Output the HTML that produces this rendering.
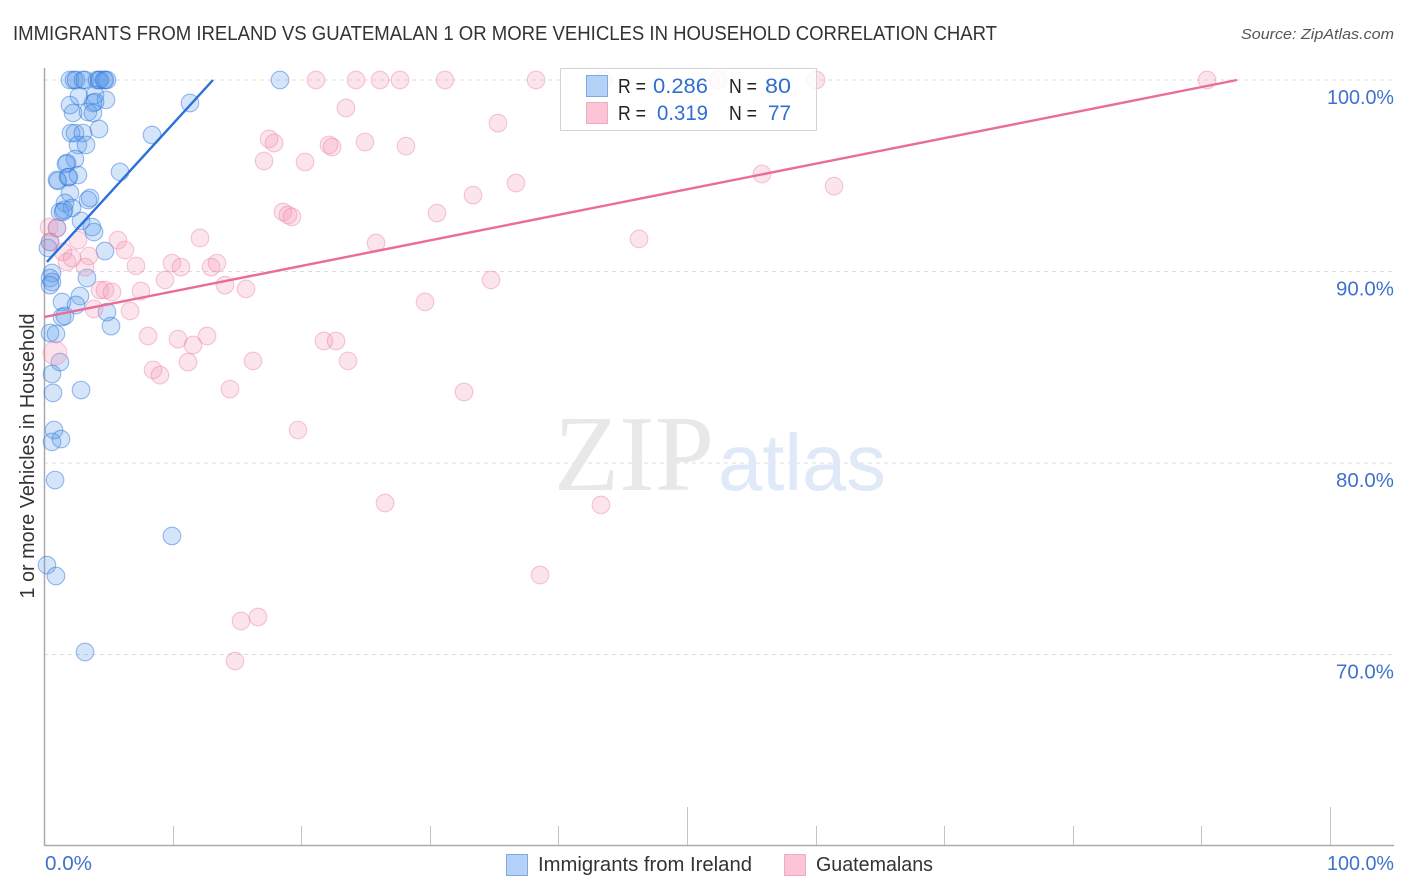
<!DOCTYPE html>
<html>
<head>
<meta charset="utf-8">
<title>Immigrants from Ireland vs Guatemalan chart</title>
<style>
html,body{margin:0;padding:0;background:#fff;}
svg{display:block;font-family:"Liberation Sans",sans-serif;}
</style>
</head>
<body>
<svg id="chart" width="1406" height="892" viewBox="0 0 1406 892" xmlns="http://www.w3.org/2000/svg">
  <rect x="0" y="0" width="1406" height="892" fill="#fff"/>
  <text x="13" y="40" font-size="20" fill="#333" textLength="984" lengthAdjust="spacingAndGlyphs">IMMIGRANTS FROM IRELAND VS GUATEMALAN 1 OR MORE VEHICLES IN HOUSEHOLD CORRELATION CHART</text>
  <text x="1241" y="39" font-size="15" font-style="italic" fill="#555" textLength="153" lengthAdjust="spacingAndGlyphs">Source: ZipAtlas.com</text>
  <g id="grid"></g>
  <g>
    <text x="554" y="490" font-size="108" fill="#e8e8e8" style="font-family:'Liberation Serif',serif" textLength="160" lengthAdjust="spacingAndGlyphs">ZIP</text>
    <text x="718" y="490" font-size="80" fill="#dfe9f8" textLength="168" lengthAdjust="spacingAndGlyphs">atlas</text>
  </g>
  <g id="axes"></g>
  <g id="points-blue"></g>
  <g id="points-pink"></g>
  <g id="trends"></g>
  <g id="labels"></g>
  <text transform="translate(34 456) rotate(-90)" text-anchor="middle" font-size="20" fill="#333" textLength="285" lengthAdjust="spacingAndGlyphs">1 or more Vehicles in Household</text>

  <g>
    <rect x="560.5" y="68.5" width="256" height="62" fill="#fff" fill-opacity="0.82" stroke="#d4d4d4"/>
    <rect x="586.5" y="75.5" width="21" height="21" fill="#b4d1f7" stroke="#7fa9e0"/>
    <rect x="586.5" y="102.5" width="21" height="21" fill="#fcc5d6" stroke="#f2a9c2"/>
    <text x="618" y="93" font-size="20" fill="#222" textLength="28" lengthAdjust="spacingAndGlyphs">R =</text>
    <text x="653" y="93" font-size="21" fill="#2f6fd0" textLength="55" lengthAdjust="spacingAndGlyphs">0.286</text>
    <text x="729" y="93" font-size="20" fill="#222" textLength="28" lengthAdjust="spacingAndGlyphs">N =</text>
    <text x="765" y="93" font-size="21" fill="#2f6fd0" textLength="26" lengthAdjust="spacingAndGlyphs">80</text>
    <text x="618" y="120" font-size="20" fill="#222" textLength="28" lengthAdjust="spacingAndGlyphs">R =</text>
    <text x="657" y="120" font-size="21" fill="#2f6fd0" textLength="51" lengthAdjust="spacingAndGlyphs">0.319</text>
    <text x="729" y="120" font-size="20" fill="#222" textLength="28" lengthAdjust="spacingAndGlyphs">N =</text>
    <text x="768" y="120" font-size="21" fill="#2f6fd0" textLength="23" lengthAdjust="spacingAndGlyphs">77</text>
  </g>

  <g>
    <rect x="506.5" y="854.5" width="21" height="21" fill="#b4d1f7" stroke="#7fa9e0"/>
    <text x="538" y="871" font-size="20" fill="#333" textLength="214" lengthAdjust="spacingAndGlyphs">Immigrants from Ireland</text>
    <rect x="784.5" y="854.5" width="21" height="21" fill="#fcc5d6" stroke="#f2a9c2"/>
    <text x="816" y="871" font-size="20" fill="#333" textLength="117" lengthAdjust="spacingAndGlyphs">Guatemalans</text>
  </g>
</svg>
<script>
const yTickValues = [100, 90, 80, 70];
const yTickLabels = ["100.0%", "90.0%", "80.0%", "70.0%"];
const xTickValues = [10, 20, 30, 40, 50, 60, 70, 80, 90, 100];
const xMajorTicks = [50, 100];
const xEndValues = [0, 100];
const xEndLabels = ["0.0%", "100.0%"];

const irelandX = [2.02,2.33,2.49,3.03,3.19,4.12,4.28,4.35,4.67,4.74,4.90,18.35,
  2.02,2.72,3.97,4.82,3.81,3.97,2.26,3.42,3.81,11.35,2.10,2.41,3.03,4.28,8.40,2.64,3.27,2.41,
  1.79,1.71,5.91,1.01,1.09,1.87,1.94,2.64,2.02,3.42,3.58,1.63,2.18,1.24,1.48,1.56,2.88,3.73,3.89,
  0.47,1.01,4.74,0.31,0.62,0.47,0.62,0.47,3.34,2.80,1.40,2.49,1.40,1.63,4.90,5.21,0.47,0.93,
  1.24,0.62,0.70,2.88,0.78,0.62,1.32,0.86,9.95,0.23,0.93,3.19];
const irelandY = [100,100,100,100,100,100,100,100,100,100,100,100,
  98.69,99.16,99.22,98.96,98.80,98.85,98.28,98.33,98.28,98.80,97.23,97.23,97.23,97.44,97.13,96.61,96.61,95.87,
  95.67,95.61,95.20,94.78,94.73,94.93,94.93,95.04,94.10,93.73,93.84,93.58,93.32,93.11,93.11,93.21,92.64,92.32,92.06,
  91.54,92.27,91.07,91.23,89.92,89.66,89.45,89.29,89.66,88.72,88.41,88.25,87.62,87.68,87.88,87.15,86.79,86.74,
  85.27,84.65,83.66,83.81,81.72,81.10,81.25,79.11,76.19,74.67,74.10,70.13];

const guatemalanX = [21.15,24.26,26.13,27.68,31.18,38.26,43.47,52.41,60.03,90.44,
  23.48,35.30,17.50,17.89,22.16,22.40,24.96,28.15,17.11,20.30,36.70,33.36,55.83,61.43,18.58,18.97,19.28,
  30.56,25.82,46.27,12.13,5.75,6.30,2.64,0.39,1.01,0.47,1.48,3.50,1.79,2.18,3.19,7.15,9.95,10.65,12.99,13.45,
  9.41,14.07,4.35,4.74,5.29,7.54,15.71,29.63,34.76,3.89,6.69,8.09,10.42,11.59,12.68,21.77,22.71,11.20,8.48,9.02,
  16.25,23.64,14.46,32.66,19.75,26.52,43.31,38.57,15.32,16.64,14.85];
const guatemalanY = [100,100,100,100,100,100,100,100,100,100,
  98.54,97.75,96.92,96.71,96.61,96.50,96.76,96.55,95.77,95.72,94.62,93.99,95.09,94.46,93.11,92.95,92.85,
  93.05,91.49,91.70,91.75,91.64,91.12,91.64,92.32,92.27,91.54,91.02,90.81,90.50,90.70,90.23,90.29,90.44,90.23,90.23,90.44,
  89.56,89.29,89.03,89.03,88.93,88.98,89.09,88.41,89.56,88.04,87.94,86.63,86.47,86.16,86.63,86.37,86.37,85.27,84.86,84.59,
  85.33,85.33,83.86,83.71,81.72,77.91,77.81,74.15,71.75,71.96,69.66];
const guatemalanOutlierX = [0.86];
const guatemalanOutlierY = [85.74];

const irelandTrendX = [0.23, 13.14];
const irelandTrendY = [90.5, 100];
const guatemalanTrendX = [0, 92.77];
const guatemalanTrendY = [87.62, 100];

const NS = "http://www.w3.org/2000/svg";
function xScale(v) { return 44 + v * 12.86; }
function yScale(v) { return 80 + (100 - v) * 19.15; }
function labelWidth(s) { return s.length === 6 ? 67 : s.length === 5 ? 58 : 47; }
function make(tag, parent, attrs, text) {
  const el = document.createElementNS(NS, tag);
  for (const k in attrs) el.setAttribute(k, attrs[k]);
  if (text !== undefined) el.textContent = text;
  document.getElementById(parent).appendChild(el);
  return el;
}

yTickValues.forEach(function (v, i) {
  const line = make("line", "grid", {x1: 44, x2: 1394, y1: yScale(v), y2: yScale(v), stroke: "#dcdcdc", "stroke-width": 1, "stroke-dasharray": "4 4"});
  
  
  const lab = make("text", "labels", {x: 1394 - labelWidth(yTickLabels[i]), y: yScale(v) + 24, "font-size": 20, fill: "#3f72cc", textLength: labelWidth(yTickLabels[i]), lengthAdjust: "spacingAndGlyphs"}, yTickLabels[i]);
  
  
});

const yAxis = make("line", "axes", {x1: 44.5, x2: 44.5, y1: 68, y2: 845.5, stroke: "#aaa", "stroke-width": 1.5});


const xAxis = make("line", "axes", {x1: 44, x2: 1394, y1: 845.5, y2: 845.5, stroke: "#aaa", "stroke-width": 1.5});



xTickValues.forEach(function (v) {
  const top = xMajorTicks.indexOf(v) >= 0 ? 807 : 826;
  const tick = make("line", "axes", {x1: Math.round(xScale(v)) + 0.5, x2: Math.round(xScale(v)) + 0.5, y1: top, y2: 845, stroke: "#c4c4c4", "stroke-width": 1});
  
  
});

xEndValues.forEach(function (v, i) {
  const w = labelWidth(xEndLabels[i]);
  const lab = make("text", "labels", {x: i === 0 ? xScale(v) + 1 : 1394 - w, y: 870, "font-size": 20, fill: "#3f72cc", textLength: w, lengthAdjust: "spacingAndGlyphs"}, xEndLabels[i]);
  
  
});

irelandX.forEach(function (v, i) {
  const c = make("circle", "points-blue", {cx: xScale(v), cy: yScale(irelandY[i]), r: 8.8, fill: "rgba(90,155,235,0.26)", stroke: "rgba(45,115,215,0.48)", "stroke-width": 1.1});
  
  
});

guatemalanX.forEach(function (v, i) {
  const c = make("circle", "points-pink", {cx: xScale(v), cy: yScale(guatemalanY[i]), r: 8.8, fill: "rgba(245,150,180,0.26)", stroke: "rgba(235,125,160,0.42)", "stroke-width": 1.1});
  
  
});

guatemalanOutlierX.forEach(function (v, i) {
  const c = make("circle", "points-pink", {cx: xScale(v), cy: yScale(guatemalanOutlierY[i]), r: 12, fill: "rgba(245,150,180,0.28)", stroke: "rgba(235,125,160,0.35)", "stroke-width": 1.1});
  
  
});

const blueTrend = make("line", "trends", {x1: xScale(irelandTrendX[0]), y1: yScale(irelandTrendY[0]), x2: xScale(irelandTrendX[1]), y2: yScale(irelandTrendY[1]), stroke: "#2a70d8", "stroke-width": 2.4});


const pinkTrend = make("line", "trends", {x1: xScale(guatemalanTrendX[0]), y1: yScale(guatemalanTrendY[0]), x2: xScale(guatemalanTrendX[1]), y2: yScale(guatemalanTrendY[1]), stroke: "#e96c9b", "stroke-width": 2.4});


</script>
</body>
</html>
